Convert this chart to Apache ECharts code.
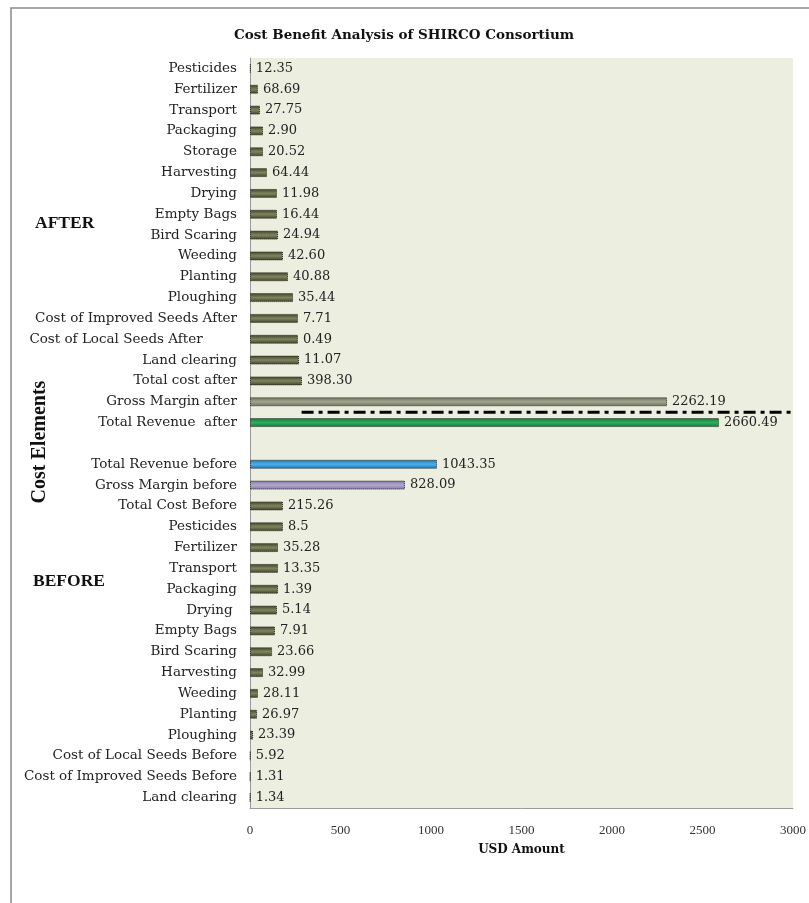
<!DOCTYPE html>
<html>
<head>
<meta charset="utf-8">
<script src="https://cdn.jsdelivr.net/npm/echarts@6/dist/echarts.min.js"></script>
<style>
html,body{margin:0;padding:0;background:#fff;}
#c{width:809px;height:903px;}
</style>
</head>
<body>
<div id="c"></div>
<script>
// ---- data (top to bottom) ----
const afterCats = ['Pesticides','Fertilizer','Transport','Packaging','Storage','Harvesting','Drying','Empty Bags','Bird Scaring','Weeding','Planting','Ploughing','Cost of Improved Seeds After','Cost of Local Seeds After        ','Land clearing','Total cost after','Gross Margin after','Total Revenue  after'];
const afterLabels = ['12.35','68.69','27.75','2.90','20.52','64.44','11.98','16.44','24.94','42.60','40.88','35.44','7.71','0.49','11.07','398.30','2262.19','2660.49'];
const afterBars = [4,44,55,72,72,94,149,149,155,182,210,238,265,265,271,287,2304,2591];

const beforeCats = ['Total Revenue before','Gross Margin before','Total Cost Before','Pesticides','Fertilizer','Transport','Packaging','Drying ','Empty Bags','Bird Scaring','Harvesting','Weeding','Planting','Ploughing','Cost of Local Seeds Before','Cost of Improved Seeds Before','Land clearing'];
const beforeLabels = ['1043.35','828.09','215.26','8.5','35.28','13.35','1.39','5.14','7.91','23.66','32.99','28.11','26.97','23.39','5.92','1.31','1.34'];
const beforeBars = [1033,856,182,182,155,155,155,149,138,122,72,44,39,17,3,2,2];

const xTicks = [0,500,1000,1500,2000,2500,3000];

// ---- build ----
const cats = afterCats.concat([''], beforeCats);
const labels = afterLabels.concat([''], beforeLabels);
const bars = afterBars.concat([null], beforeBars);

function grad(c1,c2){
  return new echarts.graphic.LinearGradient(0,0,0,1,[
    {offset:0,color:c1},{offset:0.5,color:c2},{offset:1,color:c1}]);
}
const olive = grad('#3e4128','#80845e');
const special = {
  'Gross Margin after': grad('#6f705c','#a3a48e'),
  'Total Revenue  after': grad('#0f7a3c','#2fae62'),
  'Total Revenue before': grad('#1a74b8','#4fb0e8'),
  'Gross Margin before': grad('#8174a6','#b3a8d0')
};

const data = bars.map((v,i)=>{
  if (v===null) return {value:null};
  return {
    value:v,
    itemStyle:{color: special[cats[i]] || olive, borderColor:'#2a2a1e', borderWidth:1, borderType:'dotted'},
    label:{formatter: labels[i]}
  };
});

const chart = echarts.init(document.getElementById('c'), null, {renderer:'canvas'});
const serif = 'DejaVu Serif, serif';
const tserif = 'Liberation Serif, serif';
const base = {
  animation:false,
  backgroundColor:'#fff',
  title:{
    text:'Cost Benefit Analysis of SHIRCO Consortium',
    left:399, top:23, textAlign:'center',
    textStyle:{fontFamily:serif,fontWeight:'bold',fontSize:13.5,color:'#111'}
  },
  grid:{left:250,right:16,top:58,bottom:95,backgroundColor:'#eceee0',show:true,borderWidth:0},
  xAxis:{
    type:'value', min:0, max:3000, interval:500,
    name:'USD Amount', nameLocation:'middle', nameGap:36,
    nameTextStyle:{fontFamily:serif,fontWeight:'bold',fontSize:12,color:'#111'},
    axisLine:{show:true,lineStyle:{color:'#9a9a9a',width:1}},
    axisTick:{show:false},
    splitLine:{show:false},
    axisLabel:{fontFamily:tserif,fontSize:13,color:'#333',margin:16,
      formatter:(v)=> xTicks.indexOf(v)>=0 ? String(v) : ''}
  },
  yAxis:{
    type:'category', inverse:true, data:cats,
    axisLine:{show:true,lineStyle:{color:'#9a9a9a',width:1}},
    axisTick:{show:false},
    axisLabel:{fontFamily:serif,fontSize:13.5,color:'#222',margin:13}
  },
  series:[{
    type:'bar', data:data, barWidth:9,
    label:{show:true,position:'right',distance:5,fontFamily:serif,fontSize:13,color:'#222'}
  }]
};
chart.setOption(base);

// dash-dot divider between "Gross Margin after" and "Total Revenue after"
const yA = chart.convertToPixel({yAxisIndex:0}, 16);
const yB = chart.convertToPixel({yAxisIndex:0}, 17);
const x0 = chart.convertToPixel({xAxisIndex:0}, 285);
const x1 = chart.convertToPixel({xAxisIndex:0}, 3000);
const ym = (yA+yB)/2;
chart.setOption({graphic:[
  {type:'rect',shape:{x:11,y:8,width:820,height:920},style:{fill:'none',stroke:'#8a8a8a',lineWidth:1.5},silent:true,z:-1},
  {type:'text',left:35,top:214,style:{text:'AFTER',fontFamily:tserif,fontWeight:'bold',fontSize:17.5,fill:'#111'}},
  {type:'text',left:33,top:572,style:{text:'BEFORE',fontFamily:tserif,fontWeight:'bold',fontSize:17.5,fill:'#111'}},
  {type:'text',x:40,y:442,rotation:Math.PI/2,
    style:{text:'Cost Elements',fontFamily:tserif,fontWeight:'bold',fontSize:20,fill:'#111',align:'center',verticalAlign:'middle'}},
  {type:'line',shape:{x1:x0,y1:ym,x2:x1,y2:ym},style:{stroke:'#000',lineWidth:3,lineDash:[12,5,4,5]},z:10}
]});
</script>
</body>
</html>
